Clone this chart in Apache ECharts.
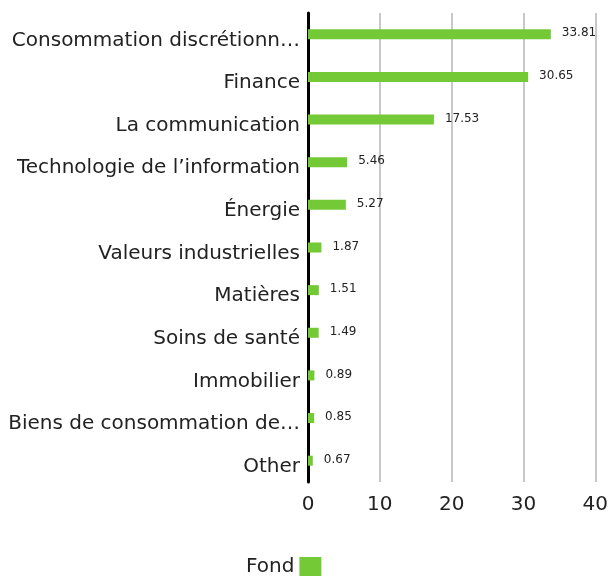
<!DOCTYPE html>
<html><head><meta charset="utf-8">
<script src="https://cdn.jsdelivr.net/npm/echarts@6/dist/echarts.min.js"></script>
<style>html,body{margin:0;padding:0;background:#fff}#c{width:611px;height:576px}</style>
</head><body><div id="c"></div>
<script>
const categories = ["Consommation discrétionn…","Finance","La communication","Technologie de l’information","Énergie","Valeurs industrielles","Matières","Soins de santé","Immobilier","Biens de consommation de…","Other"];
const fondValues = [33.81,30.65,17.53,5.46,5.27,1.87,1.51,1.49,0.89,0.85,0.67];
const xTicks = [0,10,20,30,40];
const seriesName = "Fond";

const chart = echarts.init(document.getElementById('c'), null, {renderer:'canvas'});
const FONT = 'DejaVu Sans';
chart.setOption({
  animation:false,
  grid:{left:308,right:13,top:13,bottom:94,containLabel:false},
  legend:{top:552,left:241,itemWidth:22,itemHeight:20,align:'right',icon:'rect',itemGap:5,
    textStyle:{fontFamily:FONT,fontSize:20,color:'#222'},data:[seriesName]},
  xAxis:{type:'value',min:xTicks[0],max:xTicks[xTicks.length-1],interval:10,
    axisLine:{show:false},axisTick:{show:false},
    splitLine:{lineStyle:{color:'#c8c8c8',width:2}},
    axisLabel:{fontFamily:FONT,fontSize:20,color:'#222',margin:13}},
  yAxis:{type:'category',inverse:true,data:categories,
    axisLine:{lineStyle:{color:'#000',width:3}},axisTick:{show:false},
    axisLabel:{fontFamily:FONT,fontSize:20,color:'#222',margin:8,verticalAlign:'top',lineHeight:12}},
  series:[{name:seriesName,type:'bar',data:fondValues,barWidth:10,
    itemStyle:{color:'#74c936'},
    label:{show:true,position:'right',distance:11,fontFamily:FONT,fontSize:12,color:'#222',offset:[0,-1],
      formatter:p=>p.value.toFixed(2)}}]
});
</script></body></html>
